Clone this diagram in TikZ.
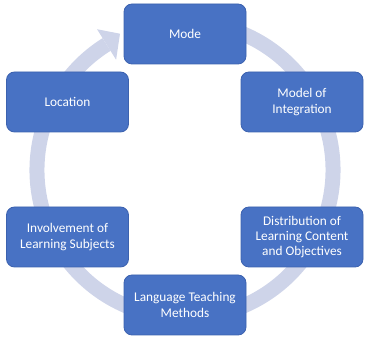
\documentclass[tikz,border=0pt]{standalone}
\usepackage{fontspec}
\setmainfont{Carlito}
\usetikzlibrary{calc}
\definecolor{boxfill}{RGB}{72,114,196}
\definecolor{boxline}{RGB}{60,98,175}
\definecolor{ringcol}{RGB}{206,212,233}
\begin{document}
\begin{tikzpicture}[x=1pt,y=1pt,
  stagebox/.style={draw=boxline, line width=0.8pt, fill=boxfill, rounded corners=8pt,
    minimum width=122pt, minimum height=60pt, inner sep=2pt, text=white,
    align=center, font=\fontsize{13.3}{15.2}\selectfont}]
\useasboundingbox (0,0) rectangle (370,340);
\coordinate (c) at (185,170);
% ring arrow
\draw[ringcol, line width=15pt] ($(c)+(75:148)$) arc[start angle=75, end angle=-238, radius=148];
\fill[ringcol] ($(c)+(122:166)$) -- ($(c)+(115.5:151)$) -- ($(c)+(122:130)$) -- cycle;
% boxes
\node[stagebox] (mode) at (185,306) {Mode};
\node[stagebox] (moi) at (302,238) {Model of\\Integration};
\node[stagebox] (dist) at (302,103) {Distribution of\\Learning Content\\and Objectives};
\node[stagebox] (ltm) at (185,35) {Language Teaching\\Methods};
\node[stagebox] (inv) at (67.5,103) {Involvement of\\Learning Subjects};
\node[stagebox] (loc) at (67.5,238) {Location};
\end{tikzpicture}
\end{document}
